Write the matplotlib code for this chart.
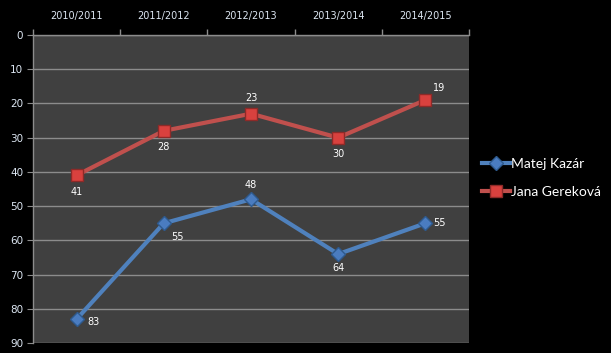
import matplotlib
matplotlib.use('Agg')
import matplotlib.pyplot as plt
import numpy as np

seasons = ['2010/2011', '2011/2012', '2012/2013', '2013/2014', '2014/2015']
matej = [83, 55, 48, 64, 55]
jana = [41, 28, 23, 30, 19]

# label offsets in points (dx, dy), screen coords
matej_off = [(12, -2), (10, -10), (0, 10), (0, -10), (10, 0)]
jana_off = [(0, -12), (0, -12), (0, 11), (0, -12), (10, 9)]

fig = plt.figure(figsize=(6.11, 3.53), dpi=100, facecolor='black')
ax = fig.add_axes([0.054, 0.028, 0.7136, 0.873])
ax.set_facecolor('#404040')

x = np.arange(len(seasons))
l1, = ax.plot(x, matej, color='#4F81BD', lw=3, marker='D', ms=7,
              markerfacecolor='#4A7CC0', markeredgecolor='#2E5A8E', label='Matej Kazár')
l2, = ax.plot(x, jana, color='#C0504D', lw=3, marker='s', ms=9,
              markerfacecolor='#D9413E', markeredgecolor='#8E2A28', label='Jana Gereková')

for i, v in enumerate(matej):
    ax.annotate(str(v), (x[i], v), xytext=matej_off[i], textcoords='offset points',
                color='white', fontsize=7, ha='center', va='center')
for i, v in enumerate(jana):
    ax.annotate(str(v), (x[i], v), xytext=jana_off[i], textcoords='offset points',
                color='white', fontsize=7, ha='center', va='center')

ax.set_xlim(-0.5, len(seasons) - 0.5)
ax.set_ylim(90, 0)
ax.set_yticks(range(0, 91, 10))
ax.yaxis.grid(True, color='#8c8c8c', lw=1)
ax.set_axisbelow(True)

ax.xaxis.tick_top()
ax.set_xticks(x)
ax.set_xticklabels(seasons)
ax.set_xticks(np.arange(-0.5, len(seasons)), minor=True)
ax.tick_params(axis='x', which='major', length=0, pad=10, colors='#dce6f2', labelsize=7)
ax.tick_params(axis='x', which='minor', length=4, color='#8c8c8c', width=1)
ax.tick_params(axis='y', length=4, color='#8c8c8c', colors='#dce6f2', labelsize=7.5, pad=3)
for s in ['right', 'bottom']:
    ax.spines[s].set_visible(False)
ax.spines['left'].set_color('#8c8c8c')
ax.spines['top'].set_color('#8c8c8c')
ax.spines['left'].set_linewidth(1)
ax.spines['top'].set_linewidth(1)

leg = fig.legend(handles=[l1, l2], loc='center left', bbox_to_anchor=(0.768, 0.495),
                 frameon=False, prop={'family': 'Lato', 'size': 10}, labelcolor='white',
                 handlelength=2.0, handletextpad=0.1, labelspacing=1.15)

fig.savefig('out.png', dpi=100, facecolor='black')
